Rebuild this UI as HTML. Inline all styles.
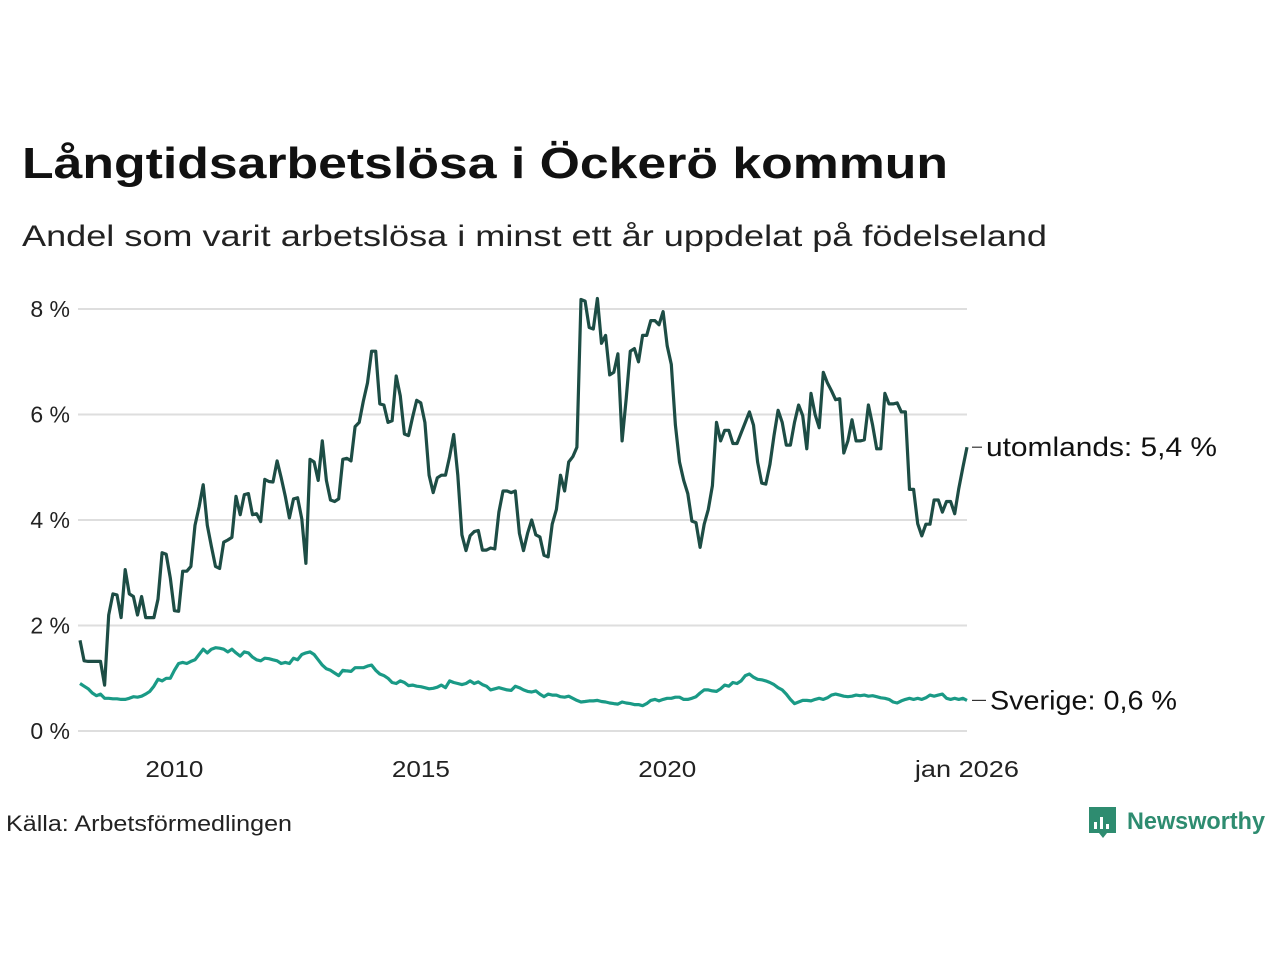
<!DOCTYPE html>
<html><head><meta charset="utf-8"><style>
html,body{margin:0;padding:0;background:#fff;}
svg{display:block;font-family:"Liberation Sans",sans-serif;}
</style></head><body>
<svg id="chart" width="1280" height="960" viewBox="0 0 1280 960">
<text x="22" y="178" font-size="44" font-weight="bold" fill="#111" textLength="926" lengthAdjust="spacingAndGlyphs">Långtidsarbetslösa i Öckerö kommun</text>
<text x="22" y="246" font-size="30" fill="#222" textLength="1025" lengthAdjust="spacingAndGlyphs">Andel som varit arbetslösa i minst ett år uppdelat på födelseland</text>
<g id="grid"></g>
<g id="yticks"></g>
<g id="xticks"></g>
<g id="series"></g>
<text x="6" y="831" font-size="22" fill="#222" textLength="286" lengthAdjust="spacingAndGlyphs">Källa: Arbetsförmedlingen</text>
<g>
<path d="M1089 807 h27 v26 h-9 l-4 5 l-4 -5 h-10 z" fill="#2e8c70"/>
<rect x="1094" y="822" width="3" height="7" fill="#fff"/><rect x="1100" y="817" width="3" height="12" fill="#fff"/><rect x="1106" y="824" width="3" height="5" fill="#fff"/>
<text x="1127" y="829" font-size="24" font-weight="bold" fill="#2e8c70" textLength="138" lengthAdjust="spacingAndGlyphs">Newsworthy</text>
</g>
</svg>
<script>
const yTicks=[0,2,4,6,8];
const yTickLabels=["0 %","2 %","4 %","6 %","8 %"];
const xTickYears=[2010,2015,2020,2026];
const xTickLabels=["2010","2015","2020","jan 2026"];
const startYear=2008, startMonth=2;
const utomlands=[1.72,1.33,1.32,1.32,1.32,1.32,0.87,2.2,2.6,2.58,2.15,3.06,
2.6,2.55,2.2,2.55,2.15,2.15,2.15,2.5,3.38,3.35,2.9,2.28,
2.27,3.03,3.03,3.12,3.9,4.25,4.67,3.9,3.5,3.12,3.08,3.58,
3.62,3.67,4.45,4.1,4.48,4.5,4.1,4.12,3.97,4.77,4.73,4.72,
5.12,4.8,4.45,4.04,4.4,4.42,4.02,3.18,5.15,5.1,4.75,5.5,
4.75,4.38,4.35,4.4,5.15,5.17,5.12,5.77,5.85,6.25,6.6,7.2,
7.2,6.2,6.18,5.85,5.88,6.73,6.35,5.63,5.6,5.95,6.27,6.22,
5.85,4.85,4.52,4.8,4.85,4.85,5.2,5.62,4.85,3.72,3.42,3.7,
3.78,3.8,3.43,3.43,3.47,3.45,4.15,4.55,4.55,4.52,4.55,3.75,
3.42,3.75,4.0,3.72,3.68,3.33,3.3,3.92,4.2,4.85,4.55,5.1,
5.2,5.38,8.18,8.15,7.65,7.62,8.2,7.35,7.5,6.75,6.8,7.15,
5.5,6.3,7.2,7.25,7.0,7.5,7.5,7.78,7.78,7.7,7.95,7.3,
6.95,5.8,5.1,4.75,4.5,3.98,3.95,3.48,3.92,4.2,4.65,5.85,
5.5,5.7,5.7,5.45,5.45,5.65,5.85,6.05,5.8,5.1,4.7,4.68,
5.05,5.6,6.08,5.85,5.42,5.42,5.85,6.18,5.98,5.35,6.4,6.0,
5.75,6.8,6.6,6.45,6.28,6.3,5.27,5.5,5.9,5.5,5.5,5.52,
6.18,5.8,5.35,5.35,6.4,6.2,6.2,6.22,6.05,6.05,4.58,4.58,
3.93,3.7,3.92,3.92,4.38,4.38,4.15,4.35,4.35,4.12,4.6,5.0,5.38];
const sverige=[.9,.85,.8,.72,.67,.7,.62,.62,.61,.61,.6,.6,
.62,.65,.64,.66,.7,.75,.85,.98,.95,1.0,1.0,1.15,
1.28,1.3,1.28,1.32,1.35,1.45,1.55,1.48,1.55,1.58,1.57,1.55,
1.5,1.55,1.48,1.42,1.5,1.48,1.4,1.35,1.33,1.38,1.37,1.35,
1.33,1.28,1.3,1.28,1.38,1.35,1.45,1.48,1.5,1.45,1.35,1.25,
1.18,1.15,1.1,1.05,1.15,1.14,1.13,1.2,1.2,1.2,1.23,1.25,
1.15,1.08,1.05,1.0,.92,.9,.95,.92,.86,.87,.85,.84,
.82,.8,.81,.83,.87,.82,.95,.92,.9,.88,.9,.95,
.9,.93,.88,.85,.78,.8,.82,.8,.78,.77,.85,.82,
.78,.75,.74,.76,.7,.65,.7,.68,.68,.65,.64,.66,
.62,.58,.55,.56,.57,.57,.58,.56,.55,.53,.52,.51,
.55,.53,.52,.5,.5,.48,.52,.58,.6,.57,.6,.62,
.62,.64,.64,.6,.6,.62,.65,.72,.78,.78,.76,.75,
.8,.87,.85,.92,.9,.95,1.05,1.08,1.02,.98,.97,.95,
.92,.88,.82,.78,.7,.6,.52,.55,.58,.58,.57,.6,
.62,.6,.63,.68,.7,.68,.66,.65,.66,.68,.67,.68,
.66,.67,.65,.63,.62,.6,.55,.53,.57,.6,.62,.6,
.62,.6,.63,.68,.66,.68,.7,.62,.6,.62,.6,.62,.58];
const NS="http://www.w3.org/2000/svg";
const x0=80, pxPerMonth=(967-80)/216;
function xScale(i){return x0+i*pxPerMonth;}
function xYear(y){return xScale((y-startYear)*12+(1-startMonth));}
function yScale(v){return 731-v*52.75;}
function mk(tag,attrs,parent){const e=document.createElementNS(NS,tag);for(const k in attrs)e.setAttribute(k,attrs[k]);parent.appendChild(e);return e;}
const grid=document.getElementById('grid'),yt=document.getElementById('yticks'),xt=document.getElementById('xticks'),ser=document.getElementById('series');
yTicks.forEach((v,k)=>{
  const l=mk('line',{x1:78,x2:967,y1:yScale(v),y2:yScale(v),stroke:'#dedede','stroke-width':2},grid);
  
  
  const t=mk('text',{x:70,y:yScale(v)+8,'font-size':23,'text-anchor':'end',fill:'#222'},yt);
  t.textContent=yTickLabels[k];
  
  
});
xTickYears.forEach((y,k)=>{
  const x=xYear(y)+(k===3?4:0);
  const t=mk('text',{x:x,y:777,'font-size':23,'text-anchor':'middle',fill:'#222',textLength:(k===3?104:58),lengthAdjust:'spacingAndGlyphs'},xt);
  t.textContent=xTickLabels[k];
  
  
});
function drawLine(data,color,name,label,lx,tw){
  const d=data.map((v,i)=>(i?'L':'M')+xScale(i).toFixed(1)+' '+yScale(v).toFixed(1)).join(' ');
  const p=mk('path',{d:d,fill:'none',stroke:color,'stroke-width':3.2,'stroke-linejoin':'round'},ser);
  
  
  const last=data[data.length-1], ly=yScale(last);
  const dash=mk('line',{x1:972,x2:lx-4,y1:ly,y2:ly,stroke:'#333','stroke-width':1.2},ser);
  
  
  const t=mk('text',{x:lx,y:ly+9,'font-size':27,fill:'#111',textLength:tw,lengthAdjust:'spacingAndGlyphs'},ser);
  t.textContent=label+': '+(Math.round(last*10)/10).toFixed(1).replace('.',',')+' %';
  
  
}
drawLine(sverige,'#1a9a86','sverige','Sverige',990,187);
drawLine(utomlands,'#1d4d45','utomlands','utomlands',986,231);
</script>
</body></html>
